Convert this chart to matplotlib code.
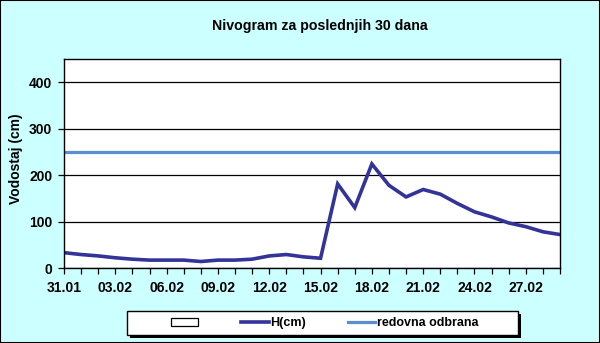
import matplotlib
matplotlib.use("Agg")
import matplotlib.pyplot as plt
from matplotlib.patches import Patch, Rectangle
from matplotlib.lines import Line2D

dates = ["31.01", "01.02", "02.02", "03.02", "04.02", "05.02", "06.02", "07.02",
         "08.02", "09.02", "10.02", "11.02", "12.02", "13.02", "14.02", "15.02",
         "16.02", "17.02", "18.02", "19.02", "20.02", "21.02", "22.02", "23.02",
         "24.02", "25.02", "26.02", "27.02", "28.02", "29.02"]
h_cm = [33, 29, 26, 22, 19, 17, 17, 17, 14, 17, 17, 19, 26, 29, 24, 21,
        181, 130, 224, 178, 153, 169, 159, 139, 121, 110, 97, 89, 78, 72]
redovna_odbrana = 250
y_ticks = [0, 100, 200, 300, 400]

plt.rcParams['font.family'] = ['Liberation Sans', 'DejaVu Sans']

W, H = 600, 343
fig = plt.figure(figsize=(W/100, H/100), dpi=100, facecolor='#CCFFFF')
fig.patches.append(Rectangle((0, 0), 1, 1, transform=fig.transFigure,
                             fill=False, edgecolor='black', linewidth=1.5))

ax = fig.add_axes([64/W, 75/H, 496/W, 209/H])
ax.set_facecolor('white')

x = list(range(len(dates)))
ax.plot(x, [redovna_odbrana]*len(x), color='#5B8DD1', linewidth=2.3, solid_capstyle='butt')
ax.plot(x, h_cm, color='#333399', linewidth=2.6, solid_joinstyle='miter')

ax.set_xlim(0, len(dates) - 1)
ax.set_ylim(0, 450)
ax.set_yticks(y_ticks)
ax.set_yticklabels([str(v) for v in y_ticks], fontsize=10, fontweight='bold')
ax.grid(axis='y', color='black', linewidth=0.9)
ax.set_axisbelow(True)

ax.set_xticks(x[::3])
ax.set_xticklabels(dates[::3], fontsize=10, fontweight='bold')
ax.set_xticks(x, minor=True)
ax.tick_params(axis='x', which='both', direction='out', length=4, width=0.9, pad=5)
ax.tick_params(axis='y', direction='out', length=4, width=0.9, pad=4.5)

for s in ax.spines.values():
    s.set_color('black')
    s.set_linewidth(1.0)

fig.text(16.5/W, 1 - 159/H, 'Vodostaj (cm)', rotation=90, ha='center', va='center',
         fontsize=10, fontweight='bold')
fig.text(320/W, 1 - 26/H, 'Nivogram za poslednjih 30 dana', ha='center', va='center',
         fontsize=10.2, fontweight='bold')

# legend box with shadow
bx0, bx1, by0, by1 = 127, 518, 311, 335
fig.patches.append(Rectangle(((bx0 + 3)/W, 1 - (by1 + 3)/H), (bx1 - bx0)/W, (by1 - by0)/H,
                             transform=fig.transFigure, facecolor='black', edgecolor='none'))
fig.patches.append(Rectangle((bx0/W, 1 - by1/H), (bx1 - bx0)/W, (by1 - by0)/H,
                             transform=fig.transFigure, facecolor='white', edgecolor='black',
                             linewidth=1.0))

handles = [Patch(facecolor='white', edgecolor='black', linewidth=0.9),
           Line2D([], [], color='#333399', linewidth=2.6),
           Line2D([], [], color='#5B8DD1', linewidth=2.3)]
labels = ['', 'H(cm)', 'redovna odbrana']
leg = fig.legend(handles, labels, loc='center', ncol=3,
                 bbox_to_anchor=(324.5/W, 1 - 323/H),
                 frameon=False, handlelength=2.2, handleheight=0.6,
                 handletextpad=0.15, columnspacing=3.3,
                 prop={'size': 9, 'weight': 'bold'}, borderpad=0, borderaxespad=0)

fig.savefig('out.png', dpi=100, facecolor=fig.get_facecolor())
